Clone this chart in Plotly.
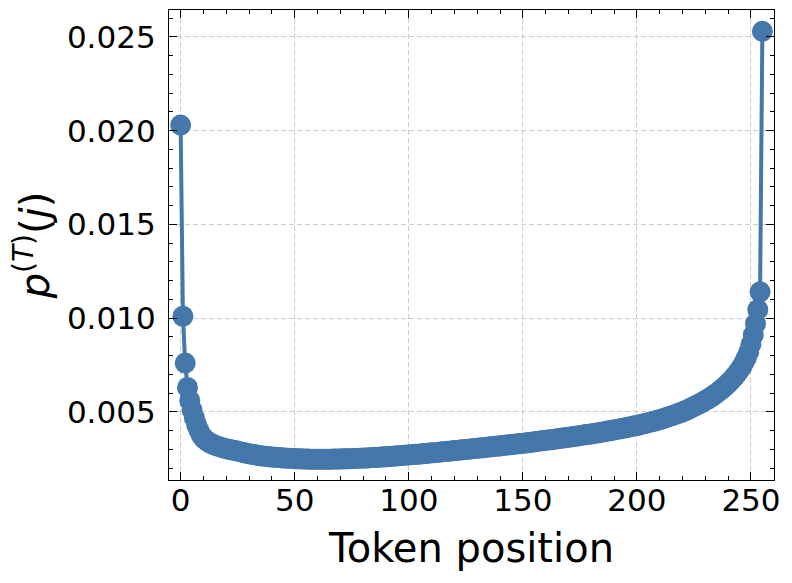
import plotly.graph_objects as go

positions = list(range(256))
probs = [
    0.0203, 0.0101, 0.0076, 0.0063, 0.0056, 0.0051, 0.00468, 0.00432, 0.00402, 0.00376,
    0.00360, 0.00349, 0.00340, 0.00333, 0.00327, 0.00322, 0.00318, 0.00314, 0.00310, 0.00306,
    0.00303, 0.00300, 0.00298, 0.00295, 0.00293, 0.00290, 0.00287, 0.00284, 0.00281, 0.00279,
    0.00276, 0.00274, 0.00272, 0.00270, 0.00268, 0.00266, 0.00264, 0.00263, 0.00261, 0.00260,
    0.00259, 0.00258, 0.00257, 0.00256, 0.00255, 0.00254, 0.00253, 0.00252, 0.00252, 0.00251,
    0.00250, 0.00250, 0.00249, 0.00249, 0.00248, 0.00248, 0.00248, 0.00247, 0.00247, 0.00247,
    0.00247, 0.00247, 0.00247, 0.00247, 0.00247, 0.00247, 0.00247, 0.00248, 0.00248, 0.00248,
    0.00248, 0.00249, 0.00249, 0.00249, 0.00250, 0.00250, 0.00251, 0.00251, 0.00252, 0.00252,
    0.00253, 0.00254, 0.00254, 0.00255, 0.00256, 0.00256, 0.00257, 0.00258, 0.00259, 0.00260,
    0.00260, 0.00261, 0.00262, 0.00263, 0.00264, 0.00265, 0.00266, 0.00267, 0.00268, 0.00269,
    0.00270, 0.00271, 0.00272, 0.00273, 0.00274, 0.00275, 0.00276, 0.00277, 0.00278, 0.00280,
    0.00281, 0.00282, 0.00283, 0.00284, 0.00286, 0.00287, 0.00288, 0.00289, 0.00290, 0.00292,
    0.00293, 0.00294, 0.00295, 0.00297, 0.00298, 0.00299, 0.00300, 0.00302, 0.00303, 0.00304,
    0.00305, 0.00307, 0.00308, 0.00309, 0.00311, 0.00312, 0.00313, 0.00315, 0.00316, 0.00317,
    0.00318, 0.00320, 0.00321, 0.00323, 0.00324, 0.00325, 0.00327, 0.00328, 0.00330, 0.00331,
    0.00332, 0.00334, 0.00335, 0.00337, 0.00338, 0.00340, 0.00341, 0.00343, 0.00345, 0.00346,
    0.00348, 0.00349, 0.00351, 0.00352, 0.00354, 0.00356, 0.00357, 0.00359, 0.00361, 0.00362,
    0.00364, 0.00366, 0.00368, 0.00369, 0.00371, 0.00373, 0.00375, 0.00377, 0.00379, 0.00380,
    0.00382, 0.00384, 0.00386, 0.00388, 0.00390, 0.00392, 0.00394, 0.00397, 0.00399, 0.00401,
    0.00403, 0.00405, 0.00408, 0.00410, 0.00412, 0.00415, 0.00417, 0.00420, 0.00422, 0.00425,
    0.00427, 0.00430, 0.00433, 0.00436, 0.00439, 0.00442, 0.00445, 0.00448, 0.00451, 0.00455,
    0.00458, 0.00462, 0.00466, 0.00470, 0.00474, 0.00478, 0.00482, 0.00486, 0.00491, 0.00495,
    0.00500, 0.00505, 0.00510, 0.00516, 0.00522, 0.00528, 0.00534, 0.00540, 0.00546, 0.00553,
    0.00560, 0.00567, 0.00575, 0.00583, 0.00591, 0.00600, 0.00609, 0.00619, 0.00629, 0.00640,
    0.00652, 0.00664, 0.00677, 0.00691, 0.00706, 0.00723, 0.00742, 0.00764, 0.00789, 0.00818,
    0.00860, 0.00910, 0.00970, 0.01045, 0.01140, 0.0253,
]
x_ticks = [0, 50, 100, 150, 200, 250]
y_ticks = [0.005, 0.010, 0.015, 0.020, 0.025]
x_title = "Token position"
y_title = "<i>p</i><sup>(<i>T</i>)</sup>(<i>j</i>)"

color = "#4477AA"
font = "DejaVu Sans"

fig = go.Figure()
fig.add_trace(go.Scatter(
    x=positions, y=probs, mode="lines+markers",
    line=dict(color=color, width=4),
    marker=dict(color=color, size=21, line=dict(width=0)),
    showlegend=False,
))

axis_common = dict(
    showline=True, linecolor="black", linewidth=1.3, mirror="allticks",
    ticks="inside", ticklen=8, tickwidth=1.3, tickcolor="black",
    showgrid=True, gridcolor="#cccccc", griddash="5px,3px", gridwidth=1,
    zeroline=False,
    tickfont=dict(family=font, size=31, color="black"),
)

fig.update_xaxes(
    range=[-5.1, 260.1], tickvals=x_ticks,
    minor=dict(dtick=10, tick0=0, ticks="inside", ticklen=4, tickwidth=1, tickcolor="black", showgrid=False),
    title=dict(text=x_title, font=dict(family=font, size=40, color="black"), standoff=16),
    ticklabelstandoff=-7,
    **axis_common,
)
fig.update_yaxes(
    range=[0.00136, 0.02644], tickvals=y_ticks, tickformat=".3f",
    minor=dict(dtick=0.001, tick0=0, ticks="inside", ticklen=4, tickwidth=1, tickcolor="black", showgrid=False),
    title=dict(text=y_title, font=dict(family=font, size=40, color="black"), standoff=4),
    ticklabelstandoff=6,
    **axis_common,
)

fig.update_layout(
    width=792, height=583,
    margin=dict(l=169, r=18, t=10, b=103),
    paper_bgcolor="white", plot_bgcolor="white",
    font=dict(family=font),
)

fig.write_html("out.html", config={"displayModeBar": False},
               post_script="document.body.style.margin='0px';")
